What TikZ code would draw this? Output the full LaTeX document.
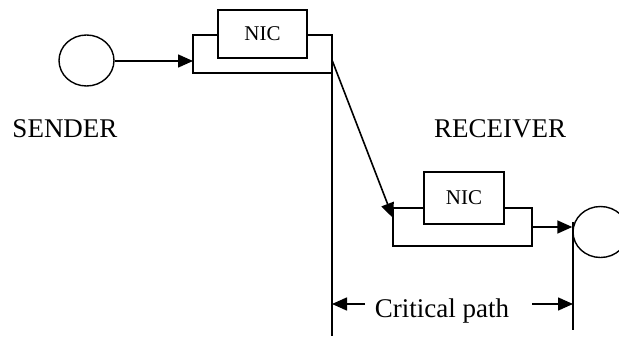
\documentclass[tikz,border=0pt]{standalone}
\usepackage{fontspec}
\setmainfont{Liberation Serif}
\usetikzlibrary{arrows.meta,shapes.geometric}
\begin{document}
\begin{tikzpicture}[x=1pt,y=-1pt,line width=1.6pt,
  arr/.style={-{Triangle[length=15pt,width=13pt]}},
  host/.style={ellipse,draw,line width=1.4pt,minimum width=55pt,minimum height=51pt,inner sep=0pt},
  nicbox/.style={draw,fill=white,inner sep=0pt,font=\fontsize{21}{21}\selectfont},
  lbl/.style={anchor=base,inner sep=0pt,font=\fontsize{27}{27}\selectfont}]
\useasboundingbox (0,0) rectangle (619,337);
% sender
\node[host] (s) at (86.5,60.5) {};
\coordinate (sbl) at (193,73);
\coordinate (str) at (332,35);
\draw (193,35) rectangle (sbl -| str);
\node[nicbox,minimum width=89pt,minimum height=48pt] (snic) at (262.5,34) {NIC};
\coordinate (sin) at (193,61);
\draw[arr] (s.east |- sin) -- (sin);
\node[lbl] (sl) at (65,137) {SENDER};
% receiver
\coordinate (rtl) at (393,208);
\coordinate (rbr) at (532,246);
\draw (rtl) rectangle (rbr);
\node[nicbox,minimum width=80pt,minimum height=52pt] (rnic) at (464,198) {NIC};
\node[host] (r) at (600.5,232) {};
\coordinate (rout) at (532,227);
\draw[arr] (rout) -- (r.west |- rout);
\node[lbl] (rl) at (500,137) {RECEIVER};
% transfer
\coordinate (d0) at (332,60);
\coordinate (d1) at (393,218);
\draw[arr] (d0) -- (d1);
% critical path
\coordinate (v1b) at (332,336);
\coordinate (v2t) at (573,222);
\coordinate (v2b) at (573,330);
\draw (str) -- (v1b);
\draw (v2t) -- (v2b);
\node[lbl] (cp) at (442,317) {Critical path};
\coordinate (ca) at (365,304);
\coordinate (cb) at (532,304);
\draw[arr] (ca) -- (v1b |- ca);
\draw[arr] (cb) -- (v2b |- cb);
\end{tikzpicture}
\end{document}
